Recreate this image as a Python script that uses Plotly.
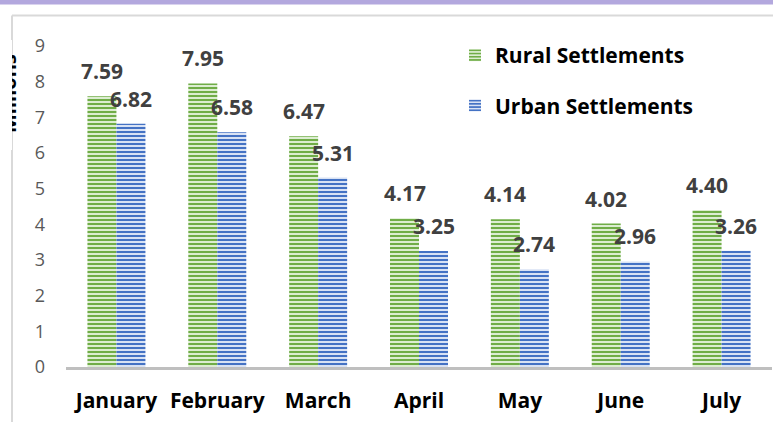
import plotly.graph_objects as go

months = ["January", "February", "March", "April", "May", "June", "July"]
rural = [7.59, 7.95, 6.47, 4.17, 4.14, 4.02, 4.40]
urban = [6.82, 6.58, 5.31, 3.25, 2.74, 2.96, 3.26]
series_names = ["Rural Settlements", "Urban Settlements"]
y_ticks = [0, 1, 2, 3, 4, 5, 6, 7, 8, 9]
y_title = "Millions"

W, H = 773, 422
L, R, T, B = 66, 1, 46, 55
PW = W - L - R
PH = H - T - B


def px(x):
    return (x - L) / PW


def py(y):
    return (H - B - y) / PH


FONT = "Open Sans"
GREEN, GREEN_BG = "#70AD47", "#DCEDD1"
BLUE, BLUE_BG = "#4472C4", "#D8E2F4"

fig = go.Figure()
for name, vals, fg, bg, grp in [
    (series_names[0], rural, GREEN, GREEN_BG, "g1"),
    (series_names[1], urban, BLUE, BLUE_BG, "g2"),
]:
    fig.add_trace(go.Bar(
        x=months, y=vals, name=name, legendgroup=grp,
        marker=dict(color=bg, line=dict(width=0),
                    pattern=dict(shape="-", size=4, solidity=0.5,
                                 fgcolor=fg, bgcolor=bg, fillmode="replace")),
    ))

annotations = []
for i, m in enumerate(months):
    for vals, xs in [(rural, -14.5), (urban, 14.5)]:
        annotations.append(dict(
            x=m, y=vals[i], xref="x", yref="y", text=f"<b>{vals[i]:.2f}</b>",
            showarrow=False, xshift=xs, yshift=25, yanchor="middle",
            font=dict(family=FONT, size=21, color="#404040"),
        ))

# y-axis title (partially clipped by chart border, as in the reference)
annotations.append(dict(
    x=px(8), y=py(93), xref="paper", yref="paper", text=f"<b>{y_title}</b>",
    textangle=-90, showarrow=False, xanchor="center", yanchor="middle",
    font=dict(family=FONT, size=20, color="#000000"),
))
annotations.append(dict(
    x=px(0), y=py(40), xref="paper", yref="paper", text=" ",
    showarrow=False, xanchor="left", yanchor="top", width=11.5, height=110,
    bgcolor="#ffffff", borderpad=0, borderwidth=0,
))

shapes = [
    dict(type="rect", xref="paper", yref="paper", x0=px(0), x1=px(W), y0=py(4.5), y1=py(0),
         fillcolor="#B3A8DE", line=dict(width=0), layer="above"),
    dict(type="line", xref="paper", yref="paper", x0=px(12), x1=px(W), y0=py(15.5), y1=py(15.5),
         line=dict(color="#D9D9D9", width=2)),
    dict(type="line", xref="paper", yref="paper", x0=px(12), x1=px(12), y0=py(15.5), y1=py(H),
         line=dict(color="#D9D9D9", width=2)),
]

fig.update_layout(
    width=W, height=H,
    margin=dict(l=L, r=R, t=T, b=B, pad=0),
    paper_bgcolor="#ffffff", plot_bgcolor="#ffffff",
    barmode="group", bargap=0.425, bargroupgap=0,
    font=dict(family=FONT),
    showlegend=True,
    legend=dict(
        x=px(455), y=py(35), xref="paper", yref="paper", xanchor="left", yanchor="top",
        traceorder="grouped", tracegroupgap=20, bgcolor="rgba(0,0,0,0)",
        font=dict(family=FONT, size=21, color="#000000", weight="bold"),
    ),
    xaxis=dict(
        showline=True, linecolor="#BFBFBF", linewidth=3, showgrid=False, zeroline=False,
        ticks="", tickfont=dict(family=FONT, size=21, color="#000000", weight="bold"),
        ticklabelstandoff=13, automargin=False,
    ),
    yaxis=dict(
        range=[0, 9], tickvals=y_ticks, showgrid=False, zeroline=False, showline=False,
        ticks="", tickfont=dict(family=FONT, size=18, color="#595959"),
        ticklabelstandoff=20, automargin=False,
    ),
    annotations=annotations,
    shapes=shapes,
)

fig.write_html(
    "out.html",
    config={"displayModeBar": False},
    post_script="document.body.style.margin='0';document.body.style.overflow='hidden';",
)
